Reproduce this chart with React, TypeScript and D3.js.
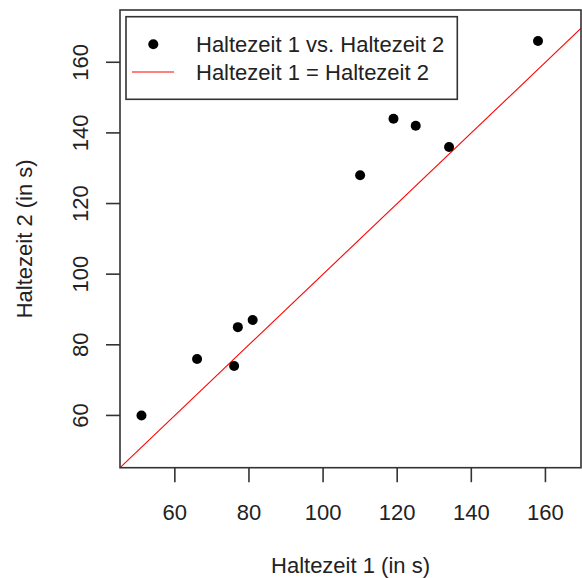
import React from "react";
import * as d3 from "d3";

const haltezeit1 = [51, 66, 76, 77, 81, 110, 119, 125, 134, 158];
const haltezeit2 = [60, 76, 74, 85, 87, 128, 144, 142, 136, 166];
const xTicks = [60, 80, 100, 120, 140, 160];
const yTicks = [60, 80, 100, 120, 140, 160];
const legendLabels = ["Haltezeit 1 vs. Haltezeit 2", "Haltezeit 1 = Haltezeit 2"];
const xTitle = "Haltezeit 1 (in s)";
const yTitle = "Haltezeit 2 (in s)";

const W = 582, H = 578;
const L = 120, R = 581, T = 10, B = 467.7;
const FONT = "Arial, 'Liberation Sans', sans-serif";
const FRAME = "#333";

export default function App() {
  const x = d3.scaleLinear().domain([45.2, 169.6]).range([L, R]);
  const y = d3.scaleLinear().domain([45.2, 174.8]).range([B, T]);
  const lo = 40, hi = 180;
  const line = d3.line<number>().x((d) => x(d)).y((d) => y(d));
  return (
    <svg width={W} height={H} style={{ position: "absolute", left: 0, top: 0, background: "#fff" }} fontFamily={FONT}>
      <defs>
        <clipPath id="plotclip">
          <rect x={L} y={T} width={R - L} height={B - T} />
        </clipPath>
      </defs>
      <rect x={0} y={0} width={W} height={H} fill="#fff" />
      <path d={line([lo, hi]) || ""} stroke="#ff0000" strokeWidth={1.1} fill="none" clipPath="url(#plotclip)" />
      {haltezeit1.map((v, i) => (
        <circle key={i} cx={x(v)} cy={y(haltezeit2[i])} r={5} fill="#000" />
      ))}
      <rect x={L} y={T} width={R - L} height={B - T} fill="none" stroke={FRAME} strokeWidth={1.6} />
      {xTicks.map((t) => (
        <g key={t}>
          <line x1={x(t)} x2={x(t)} y1={B} y2={B + 14.5} stroke={FRAME} strokeWidth={1.6} />
          <text x={x(t)} y={520} textAnchor="middle" fontSize={22} fill="#222">{t}</text>
        </g>
      ))}
      {yTicks.map((t) => (
        <g key={t}>
          <line x1={L} x2={L - 14} y1={y(t)} y2={y(t)} stroke={FRAME} strokeWidth={1.6} />
          <text transform={`translate(88,${y(t)}) rotate(-90)`} textAnchor="middle" fontSize={22} fill="#222">{t}</text>
        </g>
      ))}
      <text x={(L + R) / 2} y={573} textAnchor="middle" fontSize={22} fill="#222">{xTitle}</text>
      <text transform={`translate(32,${(T + B) / 2}) rotate(-90)`} textAnchor="middle" fontSize={22} fill="#222">{yTitle}</text>
      <g>
        <rect x={126} y={16.7} width={331.3} height={82.6} fill="#fff" stroke={FRAME} strokeWidth={1.6} />
        <circle cx={153.3} cy={44.3} r={5} fill="#000" />
        <line x1={132} x2={174} y1={72} y2={72} stroke="#ff0000" strokeWidth={1.1} />
        <text x={196} y={52} fontSize={22} fill="#222">{legendLabels[0]}</text>
        <text x={196} y={80} fontSize={22} fill="#222">{legendLabels[1]}</text>
      </g>
    </svg>
  );
}
